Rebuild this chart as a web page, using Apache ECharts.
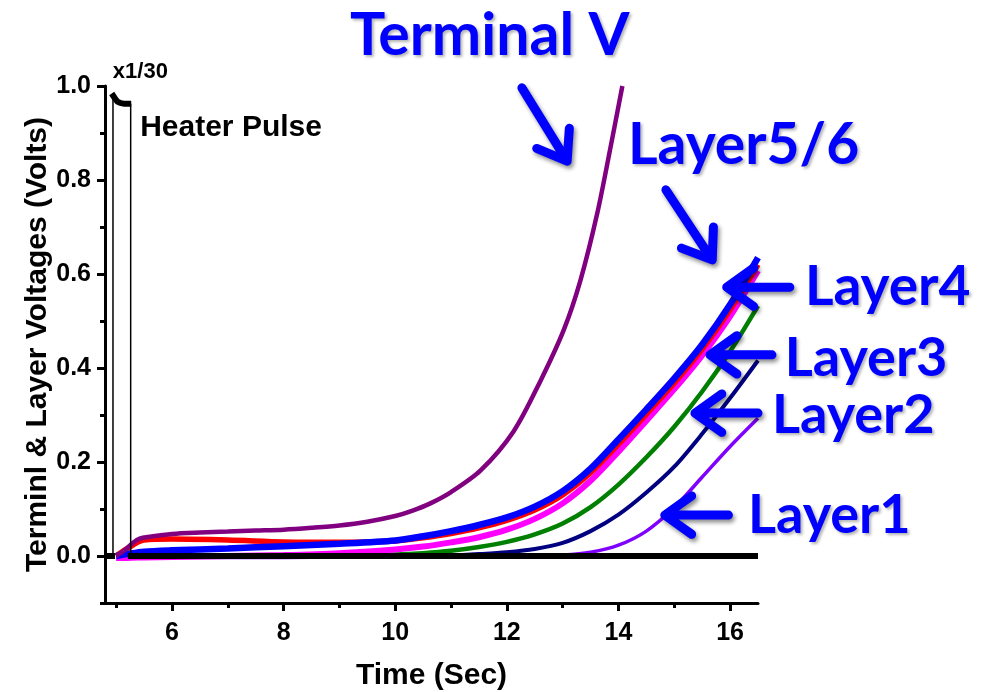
<!DOCTYPE html>
<html><head><meta charset="utf-8">
<script src="https://cdn.jsdelivr.net/npm/echarts@6/dist/echarts.min.js"></script>
<style>html,body{margin:0;padding:0;background:#fff}#c{width:991px;height:692px}</style>
</head><body><div id="c"></div>
<script>
// ---------- data ----------
const layerTime   = [5.0, 5.2, 5.5, 6, 7, 8, 9, 10, 10.5, 11, 11.5, 12, 12.5, 13, 13.5, 14, 14.5, 15, 15.5, 16, 16.5];
const layer56Blue = [0.0, 0.004, 0.009, 0.012, 0.016, 0.021, 0.026, 0.033, 0.042, 0.053, 0.066, 0.082, 0.105, 0.138, 0.186, 0.248, 0.312, 0.378, 0.45, 0.535, 0.635];
const layer56Red  = [0.0, 0.016, 0.034, 0.036, 0.034, 0.030, 0.029, 0.032, 0.039, 0.048, 0.06, 0.076, 0.098, 0.13, 0.177, 0.238, 0.302, 0.368, 0.44, 0.524, 0.62];
const layer4      = [-0.004, -0.004, -0.003, -0.002, 0.0, 0.002, 0.006, 0.014, 0.02, 0.029, 0.04, 0.056, 0.079, 0.112, 0.16, 0.222, 0.288, 0.355, 0.427, 0.51, 0.607];
const layer3      = [0, 0, 0, 0, 0, 0, 0, 0.003, 0.006, 0.011, 0.019, 0.03, 0.046, 0.069, 0.104, 0.152, 0.21, 0.275, 0.35, 0.435, 0.532];
const layer2      = [0, 0, 0, 0, 0, 0, 0, 0, 0, 0.001, 0.004, 0.008, 0.015, 0.028, 0.053, 0.088, 0.135, 0.19, 0.26, 0.336, 0.416];
const layer1      = [-0.003, -0.003, -0.003, -0.003, -0.003, -0.003, -0.002, -0.001, 0, 0, 0, 0, 0.0005, 0.002, 0.008, 0.023, 0.053, 0.103, 0.168, 0.233, 0.293];

const terminalTime = [5.0, 5.1, 5.2, 5.3, 5.42, 5.6, 6, 6.5, 7, 7.5, 8, 8.5, 9, 9.5, 10, 10.3, 10.63, 11, 11.53, 12.12, 12.6, 13.02, 13.32, 13.62, 13.86, 14.07];
const terminalV    = [0.0, 0.008, 0.017, 0.028, 0.037, 0.041, 0.047, 0.05, 0.052, 0.054, 0.056, 0.06, 0.065, 0.073, 0.085, 0.096, 0.112, 0.136, 0.182, 0.265, 0.372, 0.481, 0.587, 0.729, 0.871, 1.0];

// heater pulse (scaled x1/30): thick trace parts, null = break
const heaterTime = [4.8, 4.98, null, 4.92, 4.97, 5.02, 5.07, 5.15, 5.27, null, 5.21, 16.5];
const heaterV    = [0, 0, null, 0.984, 0.975, 0.967, 0.964, 0.962, 0.962, null, 0, 0];
// heater pulse edges (thin)
const heaterEdgeTime = [4.943, 4.943, null, 5.26, 5.26];
const heaterEdgeV    = [0, 0.984, null, 0.962, 0];

const xLabelTicks = [6, 8, 10, 12, 14, 16];
const xMinorTicks = [5, 7, 9, 11, 13, 15];
const yLabelTicks = [0, 0.2, 0.4, 0.6, 0.8, 1.0];
const yMinorTicks = [-0.1, 0.1, 0.3, 0.5, 0.7, 0.9];

const labelTexts = ['Terminal V', 'Layer5/6', 'Layer4', 'Layer3', 'Layer2', 'Layer1'];
const labelAnchors = [[9.19, 1.106], [14.17, 0.874], [17.34, 0.572], [16.98, 0.421], [16.75, 0.298], [16.32, 0.087]];
const labelSizes = [59, 57, 55, 54, 54, 54];
const arrowLines = [
  [12.27, 0.996, 13.08, 0.840],
  [14.85, 0.779, 15.68, 0.630],
  [17.07, 0.572, 15.94, 0.572],
  [16.75, 0.428, 15.64, 0.428],
  [16.50, 0.304, 15.37, 0.304],
  [15.97, 0.087, 14.83, 0.087]
];
const noteTexts = ['x1/30', 'Heater Pulse'];
const noteAnchors = [[4.94, 1.03], [5.43, 0.911]];
const noteSizes = [22, 30];

// ---------- helpers ----------
function pairs(xs, ys) {
  return xs.map((x, i) => (x === null ? '-' : [x, ys[i]]));
}
function lineSeries(name, xs, ys, color, width, z) {
  return {
    name, type: 'line', data: pairs(xs, ys), showSymbol: false, symbol: 'none',
    smooth: 0.3, connectNulls: false, z: z || 2,
    lineStyle: { color, width, cap: 'butt' }, emphasis: { disabled: true }
  };
}
const FONT = 'Liberation Sans, Arial, sans-serif';

const chart = echarts.init(document.getElementById('c'), null, { renderer: 'canvas' });
const tickLabelStyle = { color: '#000', fontFamily: FONT, fontWeight: 'bold', fontSize: 25 };

chart.setOption({
  animation: false,
  backgroundColor: '#fff',
  grid: { left: 105, right: 233, top: 86, bottom: 89, containLabel: false, outerBoundsMode: 'none' },
  xAxis: [
    {
      type: 'value', min: 4.8, max: 16.5, position: 'bottom',
      name: 'Time (Sec)', nameLocation: 'middle', nameGap: 58, nameMoveOverlap: false,
      nameTextStyle: { color: '#000', fontFamily: FONT, fontWeight: 'bold', fontSize: 30 },
      axisLine: { show: true, onZero: false, lineStyle: { color: '#000', width: 3 } },
      axisTick: { show: true, customValues: xLabelTicks, length: 8, lineStyle: { color: '#000', width: 3 } },
      axisLabel: { show: true, customValues: xLabelTicks, margin: 18, ...tickLabelStyle },
      splitLine: { show: false }
    },
    {
      type: 'value', min: 4.8, max: 16.5, position: 'bottom', offset: 0,
      axisLine: { show: false, onZero: false },
      axisTick: { show: true, customValues: xMinorTicks, length: 5, lineStyle: { color: '#000', width: 3 } },
      axisLabel: { show: false },
      splitLine: { show: false }
    }
  ],
  yAxis: [
    {
      type: 'value', min: -0.1, max: 1.0, position: 'left',
      name: 'Terminl & Layer Voltages (Volts)', nameLocation: 'middle', nameRotate: 90, nameGap: 52, nameMoveOverlap: false,
      nameTextStyle: { color: '#000', fontFamily: FONT, fontWeight: 'bold', fontSize: 30 },
      axisLine: { show: true, onZero: false, lineStyle: { color: '#000', width: 3 } },
      axisTick: { show: true, customValues: yLabelTicks, length: 8, lineStyle: { color: '#000', width: 3 } },
      axisLabel: { show: true, customValues: yLabelTicks, margin: 14, formatter: v => v.toFixed(1), ...tickLabelStyle },
      splitLine: { show: false }
    },
    {
      type: 'value', min: -0.1, max: 1.0, position: 'left', offset: 0,
      axisLine: { show: false, onZero: false },
      axisTick: { show: true, customValues: yMinorTicks, length: 5, lineStyle: { color: '#000', width: 3 } },
      axisLabel: { show: false },
      splitLine: { show: false }
    }
  ],
  series: [
    lineSeries('Layer1', layerTime, layer1, '#7f00ff', 3.5, 2),
    lineSeries('Layer2', layerTime, layer2, '#000080', 4, 3),
    lineSeries('Layer3', layerTime, layer3, '#008000', 4.5, 4),
    lineSeries('Layer4', layerTime, layer4, '#ff00ff', 6, 5),
    lineSeries('Layer5', layerTime, layer56Red, '#ff0000', 5.5, 6),
    lineSeries('Layer6', layerTime, layer56Blue, '#0000ff', 6.5, 7),
    lineSeries('Terminal V', terminalTime, terminalV, '#800080', 4.5, 8),
    Object.assign(lineSeries('Heater Pulse', heaterTime, heaterV, '#000', 6, 9), { smooth: false }),
    Object.assign(lineSeries('Heater Edge', heaterEdgeTime, heaterEdgeV, '#000', 1.5, 9), { smooth: false }),
    {
      name: 'arrows', type: 'custom', clip: false, z: 20, silent: true,
      encode: { x: [0, 2], y: [1, 3] },
      data: arrowLines,
      renderItem: function (params, api) {
        const a = api.coord([api.value(0), api.value(1)]);
        const b = api.coord([api.value(2), api.value(3)]);
        const ang = Math.atan2(b[1] - a[1], b[0] - a[0]);
        const L = 33, sp = 0.62;
        const h1 = [b[0] - L * Math.cos(ang - sp), b[1] - L * Math.sin(ang - sp)];
        const h2 = [b[0] - L * Math.cos(ang + sp), b[1] - L * Math.sin(ang + sp)];
        return {
          type: 'polyline',
          shape: { points: [a, b, h1, b, h2] },
          style: {
            stroke: '#0000ff', fill: null, lineWidth: 9, lineCap: 'round', lineJoin: 'round',
            shadowColor: 'rgba(0,0,0,0.45)', shadowBlur: 4, shadowOffsetX: 2, shadowOffsetY: 3
          }
        };
      }
    },
    {
      name: 'labels', type: 'custom', clip: false, z: 21, silent: true,
      data: labelAnchors,
      renderItem: function (params, api) {
        const p = api.coord([api.value(0), api.value(1)]);
        return {
          type: 'text', x: p[0], y: p[1],
          style: {
            text: labelTexts[params.dataIndex], fill: '#0000ff',
            fontFamily: 'Lato, "Open Sans", sans-serif', fontWeight: 'bold', fontSize: labelSizes[params.dataIndex],
            align: 'left', verticalAlign: 'middle',
            textShadowColor: 'rgba(0,0,0,0.3)', textShadowBlur: 3, textShadowOffsetX: 2, textShadowOffsetY: 2
          }
        };
      }
    },
    {
      name: 'notes', type: 'custom', clip: false, z: 21, silent: true,
      data: noteAnchors,
      renderItem: function (params, api) {
        const p = api.coord([api.value(0), api.value(1)]);
        return {
          type: 'text', x: p[0], y: p[1],
          style: {
            text: noteTexts[params.dataIndex], fill: '#000',
            fontFamily: FONT, fontWeight: 'bold', fontSize: noteSizes[params.dataIndex],
            align: 'left', verticalAlign: 'middle'
          }
        };
      }
    }
  ]
});
</script>
</body></html>
